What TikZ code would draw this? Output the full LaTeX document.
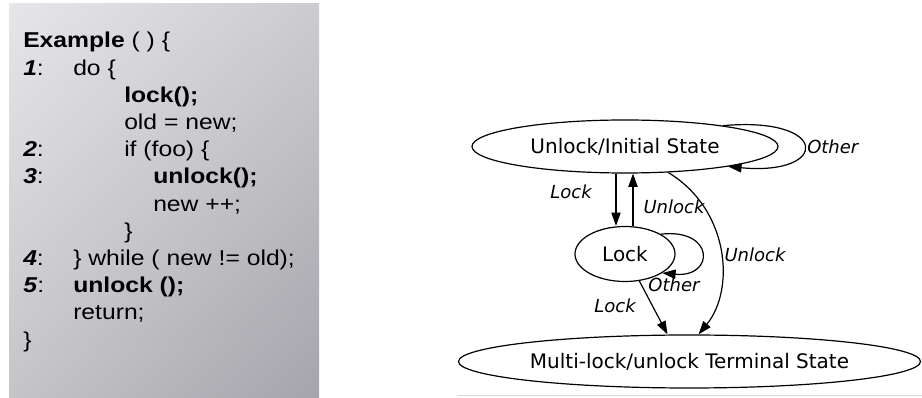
\documentclass[tikz,border=0pt]{standalone}
\usepackage{fontspec}
\usetikzlibrary{shapes.geometric, arrows.meta, shadings}
\newfontfamily\codefont[FakeStretch=1.15]{Liberation Sans}
\newfontfamily\graphfont{DejaVu Sans}
\definecolor{panelA}{RGB}{230,230,234}
\definecolor{panelB}{RGB}{203,203,208}
\definecolor{panelC}{RGB}{196,196,201}
\definecolor{panelD}{RGB}{164,164,170}
\newcommand\lnum[1]{\textbf{\textit{#1}}:}

\tikzset{
  code/.style={anchor=base west, inner sep=0pt,
    font=\codefont\fontsize{16.1pt}{18pt}\selectfont},
  state/.style={draw, ellipse, line width=0.9pt, inner sep=0pt,
    font=\graphfont\fontsize{15pt}{18pt}\selectfont},
  edge/.style={-{Triangle[length=10pt,width=7pt]}, line width=0.9pt},
  elabel/.style={inner sep=0pt, font=\graphfont\itshape\fontsize{13.5pt}{16pt}\selectfont},
}

\begin{document}
\begin{tikzpicture}[x=0.75pt, y=-0.75pt]
  \useasboundingbox (0,0) rectangle (922,398);

  % Code panel
  \shade[upper left=panelA, upper right=panelB, lower left=panelC, lower right=panelD]
    (9,4) rectangle (319,398);
  \node[code] (c0)  at (23,48.0)  {\textbf{Example} ( ) \{};
  \node[code] (n1)  at (23,75.2)  {\lnum{1}};
  \node[code] (c1)  at (73,75.2)  {do \{};
  \node[code] (c2)  at (124,102.4) {\textbf{lock();}};
  \node[code] (c3)  at (124,129.6) {old = new;};
  \node[code] (n2)  at (23,156.8) {\lnum{2}};
  \node[code] (c4)  at (124,156.8) {if (foo) \{};
  \node[code] (n3)  at (23,184.0) {\lnum{3}};
  \node[code] (c5)  at (153,184.0) {\textbf{unlock();}};
  \node[code] (c6)  at (153,211.2) {new ++;};
  \node[code] (c7)  at (124,238.4) {\}};
  \node[code] (n4)  at (23,265.6) {\lnum{4}};
  \node[code] (c8)  at (73,265.6) {\} while ( new != old);};
  \node[code] (n5)  at (23,292.8) {\lnum{5}};
  \node[code] (c9)  at (73,292.8) {\textbf{unlock ();}};
  \node[code] (c10) at (73,320.0) {return;};
  \node[code] (c11) at (23,347.2) {\}};

  % State machine
  \draw[black!15] (458,395) -- (922,395);
  \node[state, minimum width=229.5pt, minimum height=39.75pt] (init) at (625,146.5) {Unlock/Initial State};
  \node[state, minimum width=75pt, minimum height=41.25pt] (lock) at (625,254) {Lock};
  \node[state, minimum width=346.5pt, minimum height=39.75pt] (term) at (689.5,361.5) {Multi-lock/unlock Terminal State};

  \draw[edge] (init.12) .. controls (830,116) and (830,176) .. (init.-11);
  \draw[edge] ([xshift=-6.75pt]init.south) -- ([xshift=-6.75pt]lock.north);
  \draw[edge] ([xshift=6pt]lock.north) -- ([xshift=6pt]init.south);
  \draw[edge] (lock.29) .. controls (715,228) and (715,278) .. (lock.-27);
  \draw[edge] (init.-31) .. controls (730,210) and (735,290) .. ([xshift=6.75pt]term.north);
  \draw[edge] (lock.-62) -- ([xshift=-16.5pt]term.north);

  \node[elabel, anchor=west] (oth1) at (807,147) {Other};
  \node[elabel] (lk1) at (571,192) {Lock};
  \node[elabel] (ul1) at (674,207) {Unlock};
  \node[elabel] (oth2) at (674,285) {Other};
  \node[elabel] (ul2) at (755,255) {Unlock};
  \node[elabel] (lk2) at (615,306) {Lock};
\end{tikzpicture}
\end{document}
